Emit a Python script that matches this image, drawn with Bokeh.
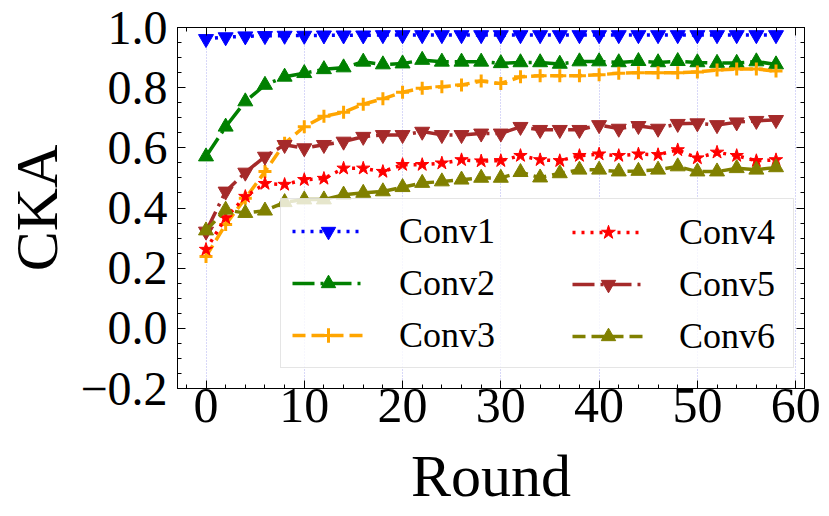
import numpy as np
from bokeh.plotting import figure
from bokeh.models import (Range1d, LinearAxis, FixedTicker, SingleIntervalTicker,
                          Legend, LegendItem, CustomJSTickFormatter)
from bokeh.embed import file_html
from bokeh.resources import INLINE

rounds = list(range(0, 60, 2))
conv1 = [0.962, 0.968, 0.971, 0.972, 0.973, 0.973, 0.974, 0.974, 0.974, 0.975,
         0.975, 0.975, 0.975, 0.975, 0.975, 0.975, 0.975, 0.975, 0.975, 0.975,
         0.975, 0.975, 0.975, 0.975, 0.975, 0.975, 0.975, 0.975, 0.975, 0.975]
conv2 = [0.571, 0.670, 0.754, 0.809, 0.836, 0.848, 0.861, 0.867, 0.886, 0.877,
         0.880, 0.892, 0.886, 0.886, 0.886, 0.881, 0.884, 0.884, 0.879, 0.887,
         0.887, 0.884, 0.888, 0.884, 0.888, 0.884, 0.882, 0.882, 0.887, 0.877]
conv3 = [0.239, 0.345, 0.432, 0.521, 0.615, 0.670, 0.705, 0.718, 0.745, 0.763,
         0.785, 0.798, 0.803, 0.809, 0.822, 0.814, 0.836, 0.840, 0.840, 0.840,
         0.843, 0.848, 0.850, 0.850, 0.850, 0.852, 0.859, 0.862, 0.862, 0.855]
conv4 = [0.262, 0.367, 0.438, 0.481, 0.478, 0.494, 0.498, 0.532, 0.532, 0.521,
         0.544, 0.544, 0.549, 0.560, 0.556, 0.557, 0.574, 0.560, 0.557, 0.574,
         0.579, 0.574, 0.579, 0.577, 0.593, 0.566, 0.585, 0.574, 0.557, 0.560]
conv5 = [0.322, 0.455, 0.518, 0.571, 0.610, 0.599, 0.610, 0.621, 0.637, 0.643,
         0.643, 0.654, 0.643, 0.643, 0.648, 0.648, 0.670, 0.660, 0.660, 0.660,
         0.676, 0.664, 0.673, 0.664, 0.680, 0.682, 0.676, 0.685, 0.690, 0.693]
conv6 = [0.325, 0.394, 0.383, 0.391, 0.419, 0.428, 0.428, 0.444, 0.450, 0.455,
         0.469, 0.483, 0.488, 0.494, 0.500, 0.500, 0.519, 0.501, 0.515, 0.527,
         0.527, 0.521, 0.523, 0.527, 0.538, 0.521, 0.521, 0.532, 0.527, 0.535]

series_names = ["Conv1", "Conv2", "Conv3", "Conv4", "Conv5", "Conv6"]
series_values = [conv1, conv2, conv3, conv4, conv5, conv6]
colors = ["#0000ff", "#008000", "#ffa500", "#ff0000", "#a52a2a", "#808000"]
markers = ["inverted_triangle", "triangle", "cross", "star", "inverted_triangle", "triangle"]
dashes = ["3 6", "22 6 3 6", "13 6", "3 6", "22 6 3 6", "13 6"]

x_ticks = [0, 10, 20, 30, 40, 50, 60]
y_ticks = [-0.2, 0.0, 0.2, 0.4, 0.6, 0.8, 1.0]
y_tick_labels = ["\u22120.2", "0.0", "0.2", "0.4", "0.6", "0.8", "1.0"]

FONT = "Liberation Serif"

p = figure(width=829, height=516, x_range=Range1d(-2.9, 60.9), y_range=Range1d(-0.2, 1.0),
           output_backend="svg", toolbar_location=None,
           min_border_left=177, min_border_right=25, min_border_top=27, min_border_bottom=128)
p.background_fill_color = "white"
p.border_fill_color = "white"
p.outline_line_color = "black"
p.outline_line_width = 1

items_r = []
for name, vals, col, mk, ds in zip(series_names, series_values, colors, markers, dashes):
    lr = p.line(rounds, vals, line_color=col, line_width=3.5, line_dash=ds)
    sz = 13 if mk == "cross" else (14 if mk == "star" else 15)
    sr = p.scatter(rounds, vals, marker=mk, size=sz, fill_color=col, line_color=col,
                   line_width=3 if mk == "cross" else 1)
    items_r.append((name, [lr, sr]))

# grid
p.ygrid.visible = False
p.xgrid.ticker = FixedTicker(ticks=x_ticks)
p.xgrid.grid_line_color = "#b0b0f0"
p.xgrid.grid_line_dash = "1 2"
p.xgrid.grid_line_width = 1

minor_y = list(np.round(np.arange(-0.2, 1.0001, 0.05), 3))

def style_axis(ax, labels=True):
    ax.axis_line_color = "black"
    ax.axis_line_width = 1
    ax.major_tick_in = 8
    ax.major_tick_out = 0
    ax.minor_tick_in = 4
    ax.minor_tick_out = 0
    ax.major_tick_line_color = "black"
    ax.minor_tick_line_color = "black"
    ax.major_label_text_font = FONT
    ax.major_label_text_color = "black"
    ax.axis_label_text_font = FONT
    ax.axis_label_text_font_style = "normal"
    ax.axis_label_text_color = "black"
    if not labels:
        ax.formatter = CustomJSTickFormatter(code="return ''")
        ax.major_label_text_font_size = "1px"
        ax.major_label_standoff = 0

bx = p.xaxis[0]
bx.ticker = SingleIntervalTicker(interval=10, num_minor_ticks=5)
style_axis(bx)
bx.major_label_text_font_size = "50px"
bx.major_label_standoff = 0
bx.axis_label = "Round"
bx.axis_label_text_font_size = "60px"
bx.axis_label_standoff = 18

ly = p.yaxis[0]
ly.ticker = FixedTicker(ticks=y_ticks, minor_ticks=minor_y)
style_axis(ly)
ly.major_label_overrides = {t: s for t, s in zip(y_ticks, y_tick_labels)}
ly.major_label_text_font_size = "48px"
ly.major_label_standoff = 10
ly.axis_label = "CKA"
ly.axis_label_text_font_size = "60px"
ly.axis_label_text_line_height = 1.0
ly.axis_label_standoff = 7

top = LinearAxis(ticker=SingleIntervalTicker(interval=10, num_minor_ticks=5))
style_axis(top, labels=False)
p.add_layout(top, "above")
right = LinearAxis(ticker=FixedTicker(ticks=y_ticks, minor_ticks=minor_y))
style_axis(right, labels=False)
p.add_layout(right, "right")

def make_legend(its, loc, boxed, label_width):
    lg = Legend(items=[LegendItem(label=n, renderers=r) for n, r in its], location=loc)
    lg.label_text_font = FONT
    lg.label_text_font_size = "36px"
    lg.label_text_color = "black"
    lg.glyph_width = 72
    lg.glyph_height = 36
    lg.label_standoff = 35
    lg.label_width = label_width
    lg.padding = 11
    lg.spacing = 10
    lg.margin = 0
    if boxed:
        lg.background_fill_color = "white"
        lg.background_fill_alpha = 0.8
        lg.border_line_color = "#cccccc"
        lg.border_line_width = 1.5
    else:
        lg.background_fill_alpha = 0
        lg.border_line_color = None
    return lg

leg1 = make_legend(items_r[:3], (103, 20), True, 383)
leg2 = make_legend(items_r[3:], (395, 31), False, 20)
p.add_layout(leg1, "center")
p.add_layout(leg2, "center")

open("out.html", "w").write(file_html(p, INLINE))
